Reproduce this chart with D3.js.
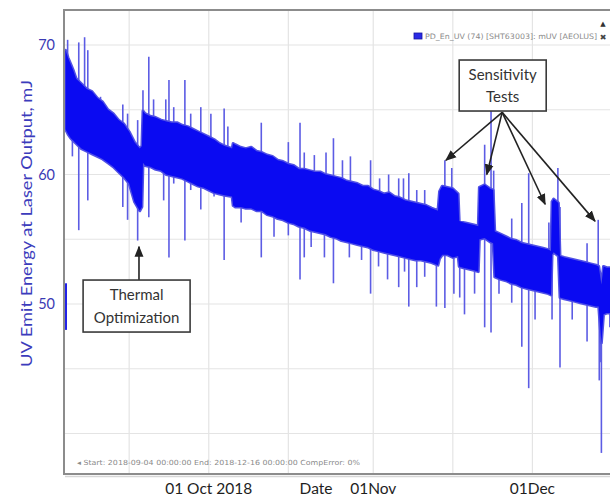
<!DOCTYPE html>
<html><head><meta charset="utf-8">
<script src="https://cdn.jsdelivr.net/npm/d3@7"></script>
<style>body{margin:0;background:#fff} svg{display:block}</style>
</head><body>
<svg id="c" width="610" height="500"></svg>
<script>
// ---------- DATA ----------
const startDate = "2018-09-04", endDate = "2018-12-16";
// band envelope (days after start, upper / lower edge of dense trace, mJ)
const bandDay = [0,0.5,1,1.5,2,3,4,5,6,7,8,9,10,11,12,13,14,14.4,14.6,15,16,17,18,19,20,21,22,23,24,25,26,27,28,29,30,31.4,31.6,32,33,34,35,36,37,38,39,40,41,42,43,44,45,46,47,48,49,50,51,52,53,54,55,56,57,58,59,60,61,62,63,64,65,66,67,68,69,70.2,70.5,71,72,73,74,74.2,75,76,77,77.8,78,79,80,80.6,80.9,82,83,84,85,86,87,88,89,90,91,91.5,91.7,92,92.9,93.2,94,95,96,97,98,99,100,100.5,101,101.4,102,103];
const bandHigh = [69.6,69.0,68.5,68.0,67.4,67.0,66.6,66.4,65.9,65.6,65.0,64.7,64.2,63.9,63.3,62.5,62.0,62.2,
  64.9,64.7,64.5,64.4,64.2,64.1,64.0,64.0,63.8,63.7,63.5,63.3,63.1,62.9,62.7,62.4,62.2,62.0,
  62.4,62.3,62.1,62.0,62.1,61.8,61.7,61.5,61.4,61.1,61.0,60.8,60.7,60.4,60.4,60.3,60.2,60.2,60.0,59.9,59.8,59.7,59.5,59.4,59.3,59.1,59.1,58.8,58.7,58.5,58.6,58.3,58.2,58.0,57.9,57.8,57.7,57.6,57.4,57.2,
  58.7,59.1,59.0,58.9,58.5,56.4,56.3,56.2,56.1,56.0,59.0,59.2,58.9,58.8,
  55.6,55.4,55.2,55.0,54.9,54.7,54.6,54.5,54.4,54.3,54.2,54.1,57.9,58.1,57.8,
  53.7,53.6,53.5,53.4,53.3,53.2,53.1,53.0,52.9,51.5,52.9,52.8,52.8];
const bandLow = [63.5,63.1,62.8,62.6,62.4,62.0,61.8,61.6,61.4,61.2,60.9,60.6,60.2,59.8,59.3,57.9,57.2,57.5,
  60.9,60.7,60.6,60.4,60.3,60.0,59.9,59.8,59.7,59.5,59.3,59.1,59.0,58.8,58.6,58.5,58.4,58.3,
  57.6,57.5,57.5,57.4,57.4,57.2,57.2,56.9,56.8,56.6,56.5,56.3,56.2,56.0,55.9,55.7,55.6,55.5,55.4,55.2,55.1,54.9,54.8,54.7,54.6,54.5,54.4,54.2,54.1,54.0,53.9,53.8,53.7,53.6,53.5,53.4,53.4,53.3,53.2,53.0,
  53.5,53.8,53.8,53.6,53.7,52.9,52.8,52.7,52.6,52.5,55.0,55.1,54.8,54.7,
  52.1,51.9,51.8,51.6,51.5,51.3,51.2,51.1,51.0,50.9,50.8,50.7,53.8,54.0,53.7,
  50.5,50.4,50.3,50.2,50.1,50.0,49.9,49.8,49.8,47.0,49.2,49.3,49.3];
// upward spikes
const upDay = [0.4,2.5,3.6,4.2,6.6,10.8,11.7,13.6,14.6,15.7,16.6,18.9,19.5,20.4,22.5,23.6,25.5,27.4,29.9,30.6,36.9,42.0,44.2,45.0,46.9,49.1,50.5,52.2,53.7,57.5,59.2,60.9,62.8,63.7,64.7,66.2,67.7,71.5,72.8,79.0,80.2,80.7,84.1,86.0,87.3,91.1,92.8,93.2,98.3,100.4];
const upVal = [70.4,70.2,70.6,69.6,66.0,65.4,64.7,64.2,66.5,69.1,65.8,65.8,67.3,65.2,67.3,64.7,65.2,64.7,65.1,63.7,64.0,62.5,64.0,61.7,61.5,61.7,62.8,61.1,61.4,61.1,59.7,60.0,59.7,59.7,60.1,58.8,58.8,61.1,60.5,62.3,65.2,60.3,56.6,57.8,60.1,56.3,60.5,57.5,54.7,56.5];
// downward spikes
const downDay = [1.3,2.5,4.2,10.8,11.7,13.6,15.7,18.5,19.5,20.4,22.5,23.6,25.5,28.0,29.9,33.1,36.9,39.3,42.0,44.2,45.0,46.3,48.8,50.5,53.5,55.8,57.5,59.0,60.7,62.8,63.9,64.7,66.2,67.7,69.9,71.5,73.2,74.3,75.2,77.1,79.0,80.2,81.7,84.1,86.0,87.3,88.5,91.7,93.2,95.5,98.3,100.6,100.9,101.0,102.6];
const downVal = [61.4,55.7,58.0,57.5,56.5,54.9,56.7,58.0,53.6,59.3,54.9,58.8,57.3,58.3,53.4,56.3,53.6,55.2,55.3,51.9,53.6,54.4,53.6,51.6,53.6,53.4,50.8,52.9,51.9,51.3,52.5,49.8,51.3,52.1,49.8,49.7,50.8,50.5,49.2,50.8,48.2,47.8,50.8,50.1,46.7,43.5,48.8,48.8,45.1,48.8,47.1,44.1,45.5,38.5,48.2];
// first isolated samples at start
const startSegDay = [0.05], startSegLow = [48.0], startSegHigh = [51.6];
const yTicks = [50, 60, 70];
const yGrid = [40, 45, 50, 55, 60, 65, 70];
const xGrid = ["2018-09-16","2018-10-01","2018-10-16","2018-11-01","2018-11-16","2018-12-01"];
const xLabelDates = ["2018-10-01","2018-11-01","2018-12-01"];
const xLabelTexts = ["01 Oct 2018","01Nov","01Dec"];
// annotations (day, value)
const thermalTip = [13.85, 54.5], thermalBox = [13.4, 51.85], thermalLines = ["Thermal","Optimization"];
const sensBox = [82.4, 68.84], sensOrigin = [82.3, 64.8], sensLines = ["Sensitivity","Tests"];
const sensTipDay = [71.7, 79.4, 90.4, 99.8], sensTipVal = [61.1, 60.0, 57.7, 56.4];

// ---------- DRAW ----------
const svg = d3.select("#c");
const t0 = new Date(startDate + "T00:00:00Z"), t1 = new Date(endDate + "T00:00:00Z");
const dd = d => new Date(t0.getTime() + d * 864e5);
const x = d3.scaleUtc().domain([t0, t1]).range([65.5, 612]);
const y = d3.scaleLinear().domain([40, 70]).range([433.5, 45]);
const L = 64, T = 10, R = 640, B = 474;

svg.append("defs").html(`
 <clipPath id="plot"><rect x="${L}" y="${T}" width="${R-L}" height="${B-T}"/></clipPath>
 <marker id="ah" viewBox="0 0 10 10" refX="9" refY="5" markerWidth="7" markerHeight="7" orient="auto-start-reverse">
   <path d="M0,1 L10,5 L0,9 z" fill="#222"/></marker>`);

// grid
svg.append("g").selectAll("line").data(xGrid).join("line")
  .attr("x1", d => x(new Date(d + "T00:00:00Z"))).attr("x2", d => x(new Date(d + "T00:00:00Z")))
  .attr("y1", T).attr("y2", B).attr("stroke", "#e4e4e4").attr("stroke-width", 1.2);
svg.append("g").selectAll("line").data(yGrid).join("line")
  .attr("x1", L).attr("x2", R).attr("y1", d => y(d)).attr("y2", d => y(d))
  .attr("stroke", "#e4e4e4").attr("stroke-width", 1.2);

const plot = svg.append("g").attr("clip-path", "url(#plot)");

function bandMid(day) {
  const i = Math.max(0, Math.min(bandDay.length - 2, d3.bisectRight(bandDay, day) - 1));
  const f = Math.max(0, Math.min(1, (day - bandDay[i]) / (bandDay[i + 1] - bandDay[i])));
  const hi = bandHigh[i] + f * (bandHigh[i + 1] - bandHigh[i]);
  const lo = bandLow[i] + f * (bandLow[i + 1] - bandLow[i]);
  return (hi + lo) / 2;
}
const spikeColor = "#5c5ce4";
plot.append("g").selectAll("line").data(upDay).join("line")
  .attr("x1", d => x(dd(d))).attr("x2", d => x(dd(d)))
  .attr("y1", d => y(bandMid(d))).attr("y2", (d, i) => y(upVal[i]))
  .attr("stroke", spikeColor).attr("stroke-width", 1.6);
plot.append("g").selectAll("line").data(downDay).join("line")
  .attr("x1", d => x(dd(d))).attr("x2", d => x(dd(d)))
  .attr("y1", d => y(bandMid(d))).attr("y2", (d, i) => y(downVal[i]))
  .attr("stroke", spikeColor).attr("stroke-width", 1.6);
plot.append("g").selectAll("line").data(startSegDay).join("line")
  .attr("x1", d => x(dd(d))).attr("x2", d => x(dd(d)))
  .attr("y1", (d, i) => y(startSegLow[i])).attr("y2", (d, i) => y(startSegHigh[i]))
  .attr("stroke", "#2222e8").attr("stroke-width", 2.5);

const bandIdx = d3.range(bandDay.length);
const area = d3.area().x(i => x(dd(bandDay[i]))).y0(i => y(bandLow[i])).y1(i => y(bandHigh[i]));
plot.append("path").datum(bandIdx).attr("d", area)
  .attr("fill", "#3a3aec").attr("stroke", "#5050e6").attr("stroke-width", 3).attr("stroke-linejoin", "round");
plot.append("path").datum(bandIdx).attr("d", area).attr("fill", "#0a0af2");

// frame
svg.append("line").attr("x1", L + 1).attr("x2", R).attr("y1", B + 2.5).attr("y2", B + 2.5).attr("stroke", "#d6d6d6").attr("stroke-width", 1.5);
svg.append("rect").attr("x", L).attr("y", T).attr("width", R - L).attr("height", B - T)
  .attr("fill", "none").attr("stroke", "#8c8c8c").attr("stroke-width", 2);

// y axis
const yAxis = svg.append("g").attr("transform", `translate(${L},0)`)
  .call(d3.axisLeft(y).tickValues(yTicks).tickSize(0).tickPadding(9).tickFormat(d3.format("d")));
yAxis.select(".domain").remove();
yAxis.selectAll("text").attr("fill", "#3a3ab4").attr("font-family", "Lato, sans-serif").attr("font-size", 14.5);

svg.append("text").attr("transform", `translate(32,${(80 + 367) / 2}) rotate(-90)`)
  .attr("text-anchor", "middle").attr("fill", "#3c3cbc").attr("font-family", "Lato, sans-serif")
  .attr("font-size", 15).attr("textLength", 287).attr("lengthAdjust", "spacingAndGlyphs")
  .text("UV Emit Energy at Laser Output, mJ");

// bottom date labels
svg.append("g").selectAll("text").data(xLabelDates).join("text")
  .attr("x", d => x(new Date(d + "T00:00:00Z"))).attr("y", 494).attr("text-anchor", "middle")
  .attr("font-family", "Lato, sans-serif").attr("font-size", 15.5).attr("fill", "#1e1e1e")
  .text((d, i) => xLabelTexts[i]);
svg.append("text").attr("x", 316).attr("y", 494).attr("text-anchor", "middle")
  .attr("font-family", "Lato, sans-serif").attr("font-size", 15.5).attr("fill", "#1e1e1e").text("Date");

// footer info
svg.append("text").attr("x", 77).attr("y", 465).attr("font-family", "DejaVu Sans, sans-serif")
  .attr("font-size", 7).attr("fill", "#8a8a8a").attr("textLength", 283).attr("lengthAdjust", "spacingAndGlyphs")
  .text("◂ Start: 2018-09-04 00:00:00 End: 2018-12-16 00:00:00 CompError: 0%");

// legend
svg.append("rect").attr("x", 414).attr("y", 33).attr("width", 8).attr("height", 6)
  .attr("fill", "#2a2ae6").attr("stroke", "#1515a0").attr("stroke-width", 0.8);
svg.append("text").attr("x", 425).attr("y", 39).attr("font-family", "DejaVu Sans, sans-serif")
  .attr("font-size", 7.5).attr("fill", "#8a8a8a").attr("textLength", 172).attr("lengthAdjust", "spacingAndGlyphs")
  .text("PD_En_UV (74) [SHT63003]: mUV [AEOLUS]");
svg.append("text").attr("x", 603).attr("y", 26).attr("text-anchor", "middle").attr("font-family", "DejaVu Sans, sans-serif")
  .attr("font-size", 7).attr("fill", "#333").text("▲");
svg.append("text").attr("x", 603).attr("y", 40).attr("text-anchor", "middle").attr("font-family", "DejaVu Sans, sans-serif")
  .attr("font-size", 8).attr("fill", "#444").text("✖");

// annotations
const ann = svg.append("g").attr("font-family", "Lato, sans-serif").attr("font-size", 15).attr("fill", "#333");
function box(cx, top, w, h, lines, dy1, dy2) {
  ann.append("rect").attr("x", cx - w / 2).attr("y", top).attr("width", w).attr("height", h)
    .attr("fill", "#fff").attr("stroke", "#3a3a3a").attr("stroke-width", 1.6);
  ann.append("text").attr("x", cx).attr("y", top + dy1).attr("text-anchor", "middle").text(lines[0]);
  ann.append("text").attr("x", cx).attr("y", top + dy2).attr("text-anchor", "middle").text(lines[1]);
}
// thermal
ann.append("line").attr("x1", x(dd(thermalTip[0]))).attr("x2", x(dd(thermalTip[0])))
  .attr("y1", y(thermalBox[1])).attr("y2", y(thermalTip[1]) + 1)
  .attr("stroke", "#222").attr("stroke-width", 1.6).attr("marker-end", "url(#ah)");
box(x(dd(thermalBox[0])), y(thermalBox[1]), 107, 52, thermalLines, 20, 43);
// sensitivity
sensTipDay.forEach((d, i) => {
  ann.append("line").attr("x1", x(dd(sensOrigin[0]))).attr("y1", y(sensOrigin[1]))
    .attr("x2", x(dd(d))).attr("y2", y(sensTipVal[i]))
    .attr("stroke", "#222").attr("stroke-width", 1.6).attr("marker-end", "url(#ah)");
});
box(x(dd(sensBox[0])), y(sensBox[1]), 87, 51, sensLines, 20, 42);
</script>
</body></html>
